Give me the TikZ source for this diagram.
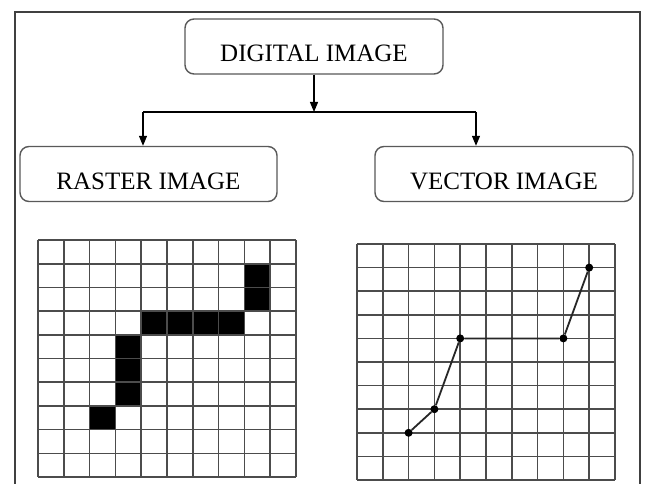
\documentclass[tikz,border=0pt]{standalone}
\usepackage{fontspec}
\setmainfont{Liberation Serif}
\usetikzlibrary{arrows.meta}

\tikzset{
  imgbox/.style={draw=black!65, line width=1.4pt, rounded corners=9pt,
    minimum height=55pt, text height=30pt, text depth=0pt,
    font=\fontsize{25}{30}\selectfont},
  flow/.style={-{Triangle[length=10pt,width=8pt]}, line width=1.2pt},
  gridline/.style={draw=black!70, line width=1.6pt},
  dot/.style={circle, fill=black, inner sep=0pt, minimum size=8pt},
}

\begin{document}
\begin{tikzpicture}[x=1pt,y=-1pt]
  \useasboundingbox (0,0) rectangle (645,484);
  \fill[white] (0,0) rectangle (645,484);
  % outer frame, open at the bottom
  \draw[black!75, line width=2pt] (15,484) -- (15,12) -- (640,12) -- (640,484);

  % the three boxes
  \node[imgbox, minimum width=258pt] (digital) at (314,46.5) {DIGITAL IMAGE};
  \node[imgbox, minimum width=257pt] (raster) at (148.5,174) {RASTER IMAGE};
  \node[imgbox, minimum width=258pt] (vector) at (504,174) {VECTOR IMAGE};

  % branching arrows
  \coordinate (split) at (314,112);
  \coordinate (rasterturn) at (143,112);
  \coordinate (vectorturn) at (476,112);
  \draw[flow] (digital.south) -- (split);
  \draw[line width=1.2pt] (rasterturn) -- (vectorturn);
  \draw[flow] (rasterturn) -- (rasterturn |- raster.north);
  \draw[flow] (vectorturn) -- (vectorturn |- vector.north);

  % raster grid with filled pixels
  \begin{scope}[shift={(38,240)}, x=25.8pt, y=-23.7pt]
    \fill (8,1) rectangle (9,3);
    \fill (4,3) rectangle (8,4);
    \fill (3,4) rectangle (4,7);
    \fill (2,7) rectangle (3,8);
    \foreach \i in {0,...,10} {
      \draw[gridline] (\i,0) -- (\i,10);
      \draw[gridline] (0,\i) -- (10,\i);
    }
  \end{scope}

  % vector grid with the polyline
  \begin{scope}[shift={(357,244)}, x=25.8pt, y=-23.6pt]
    \foreach \i in {0,...,10} {
      \draw[gridline] (\i,0) -- (\i,10);
      \draw[gridline] (0,\i) -- (10,\i);
    }
    \node[dot] (v1) at (2,8) {};
    \node[dot] (v2) at (3,7) {};
    \node[dot] (v3) at (4,4) {};
    \node[dot] (v4) at (8,4) {};
    \node[dot] (v5) at (9,1) {};
    \draw[line width=1.8pt, black!85] (v1) -- (v2) -- (v3) -- (v4) -- (v5);
  \end{scope}
\end{tikzpicture}
\end{document}
